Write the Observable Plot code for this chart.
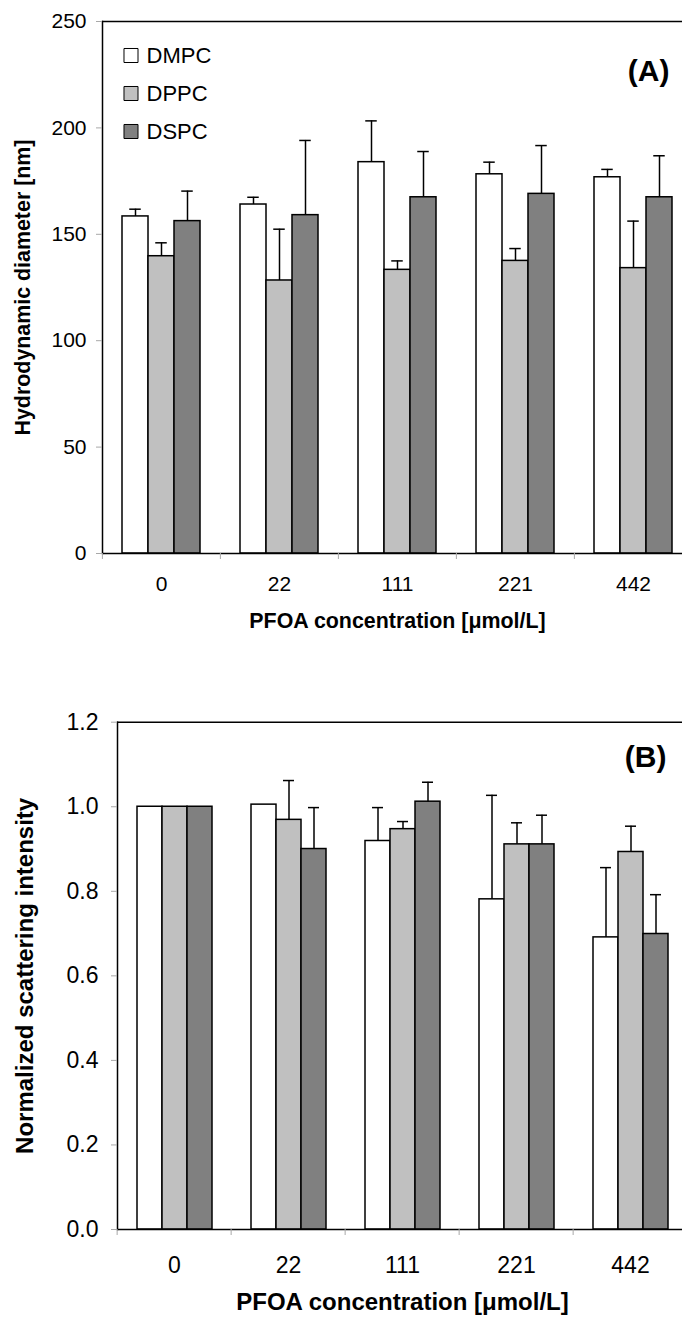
<!DOCTYPE html>
<html><head><meta charset="utf-8">
<script src="https://cdn.jsdelivr.net/npm/d3@7"></script>
<script src="https://cdn.jsdelivr.net/npm/@observablehq/plot@0.6"></script>
<style>
html,body{margin:0;padding:0;background:#fff;}
.wrap{width:682px;overflow:hidden;position:relative;}
.wrap svg{display:block;max-width:none !important;}
</style></head><body>
<div id="pa" class="wrap" style="height:660px"></div>
<div id="pb" class="wrap" style="height:657px"></div>
<script>
const concentrations = ["0", "22", "111", "221", "442"];
const lipids = ["DMPC", "DPPC", "DSPC"];
const lipidColors = ["#ffffff", "#c0c0c0", "#808080"];

// Panel A: hydrodynamic diameter [nm]
const diamDMPC = [158.4, 164.0, 183.9, 178.2, 176.8];
const diamDPPC = [139.7, 128.3, 133.3, 137.5, 134.1];
const diamDSPC = [156.2, 159.0, 167.4, 169.0, 167.4];
const diamErrDMPC = [3.4, 3.4, 19.4, 5.7, 3.7];
const diamErrDPPC = [6.3, 24.1, 4.2, 5.8, 22.1];
const diamErrDSPC = [14.1, 35.1, 21.5, 22.7, 19.5];
const diamTicks = [0, 50, 100, 150, 200, 250];

// Panel B: normalized scattering intensity
const intDMPC = [1.0, 1.005, 0.919, 0.781, 0.691];
const intDPPC = [1.0, 0.969, 0.947, 0.911, 0.893];
const intDSPC = [1.0, 0.900, 1.012, 0.911, 0.699];
const intErrDMPC = [0, 0, 0.079, 0.246, 0.165];
const intErrDPPC = [0, 0.093, 0.018, 0.051, 0.061];
const intErrDSPC = [0, 0.098, 0.046, 0.069, 0.093];
const intTicks = [0, 0.2, 0.4, 0.6, 0.8, 1.0, 1.2];

const xTitle = "PFOA concentration [\u03bcmol/L]";

function table(vals, errs) {
  const rows = [];
  concentrations.forEach((c, j) => {
    lipids.forEach((l, i) => {
      rows.push({conc: c, lipid: l, value: vals[i][j], err: errs[i][j]});
    });
  });
  return rows;
}

const FONT = "'Liberation Sans', Arial, Helvetica, sans-serif";

function panel(o) {
  const rows = o.rows;
  const withErr = rows.filter(d => d.err > 0);
  const band = (o.width - o.marginLeft - o.marginRight) / concentrations.length;
  const first = () => concentrations[0];
  const mid = () => concentrations[2];
  const last = () => concentrations[concentrations.length - 1];
  const marks = [
    Plot.barY(rows, {fx: "conc", x: "lipid", y: "value", fill: "lipid", stroke: "black", strokeWidth: 1.5}),
    Plot.ruleX(withErr, {fx: "conc", x: "lipid", y1: "value", y2: d => d.value + d.err, stroke: "black", strokeWidth: 1.5}),
    Plot.tickY(withErr, {fx: "conc", x: "lipid", y: d => d.value + d.err, stroke: "black", strokeWidth: 1.5, insetLeft: o.capInset, insetRight: o.capInset}),
    Plot.ruleY([o.yDomain[1]], {stroke: "black", strokeWidth: 1.5}),
    Plot.ruleY([0], {stroke: "black", strokeWidth: 1.5}),
    Plot.frame({anchor: "left", facetAnchor: "left", stroke: "black", strokeWidth: 1.5}),
    Plot.axisY({ticks: o.yTicks, tickFormat: o.yFormat, tickSize: 6, tickPadding: o.yTickPad, fontSize: o.tickFont, stroke: "#a8a8a8", fill: "black", label: null}),
    Plot.axisFx({anchor: "bottom", tickSize: 0, tickPadding: o.xLabelPad, fontSize: o.tickFont, fill: "black", label: null}),
    Plot.axisFx({anchor: "bottom", tickSize: 6, tickFormat: () => "", dx: -band / 2, stroke: "#a8a8a8", label: null}),
    Plot.text([o.yTitle], {fx: first, frameAnchor: "left", dx: o.yTitleDx, rotate: -90, text: d => d, fontSize: o.titleFont, fontWeight: "bold", lineAnchor: "middle", textAnchor: "middle", fill: "black"}),
    Plot.text([xTitle], {fx: mid, frameAnchor: "bottom", dy: o.xTitleDy, text: d => d, fontSize: o.titleFont, fontWeight: "bold", lineAnchor: "middle", textAnchor: "middle", fill: "black"}),
    Plot.text([o.tag], {fx: last, frameAnchor: "top-right", dx: o.tagDx, dy: o.tagDy, text: d => d, fontSize: 30, fontWeight: "bold", textAnchor: "end", lineAnchor: "middle", fill: "black"})
  ];
  if (o.legend) {
    lipids.forEach((l, i) => {
      marks.push(Plot.dot([l], {fx: first, frameAnchor: "top-left", dx: 28.5, dy: 34 + 38 * i, symbol: "square", r: 7.9, fill: d => d, stroke: "black", strokeWidth: 1}));
      marks.push(Plot.text([l], {fx: first, frameAnchor: "top-left", dx: 44, dy: 34 + 38 * i, text: d => d, textAnchor: "start", lineAnchor: "middle", fontSize: 22, fill: "black"}));
    });
  }
  return Plot.plot({
    width: o.width, height: o.height,
    marginTop: o.marginTop, marginBottom: o.marginBottom, marginLeft: o.marginLeft, marginRight: o.marginRight,
    style: {fontFamily: FONT, background: "white", color: "black", overflow: "visible"},
    fx: {domain: concentrations, padding: 0},
    x: {domain: lipids, paddingInner: 0, paddingOuter: o.xPadOuter, axis: null},
    y: {domain: o.yDomain},
    color: {domain: lipids, range: lipidColors},
    marks
  });
}

const svgA = panel({
  rows: table([diamDMPC, diamDPPC, diamDSPC], [diamErrDMPC, diamErrDPPC, diamErrDSPC]),
  yDomain: [0, 250], yTicks: diamTicks, yFormat: d3.format("d"),
  width: 700, height: 660, marginTop: 21, marginBottom: 107, marginLeft: 101, marginRight: 7.75,
  yTitle: "Hydrodynamic diameter [nm]", tag: "(A)", tagDx: -23, tagDy: 50,
  tickFont: 21, titleFont: 21.4, yTickPad: 10, xLabelPad: 23, yTitleDx: -79, xTitleDy: 67.5,
  xPadOuter: 0.73, capInset: 7.25, legend: true
});
document.getElementById("pa").appendChild(svgA);

const svgB = panel({
  rows: table([intDMPC, intDPPC, intDSPC], [intErrDMPC, intErrDPPC, intErrDSPC]),
  yDomain: [0, 1.2], yTicks: intTicks, yFormat: d3.format(".1f"),
  width: 700, height: 657, marginTop: 61.7, marginBottom: 88, marginLeft: 115, marginRight: 11.25,
  yTitle: "Normalized scattering intensity", tag: "(B)", tagDx: -21, tagDy: 35,
  tickFont: 23, titleFont: 24, yTickPad: 13, xLabelPad: 27, yTitleDx: -92, xTitleDy: 73,
  xPadOuter: 0.72, capInset: 7, legend: false
});
document.getElementById("pb").appendChild(svgB);
</script>
</body></html>
